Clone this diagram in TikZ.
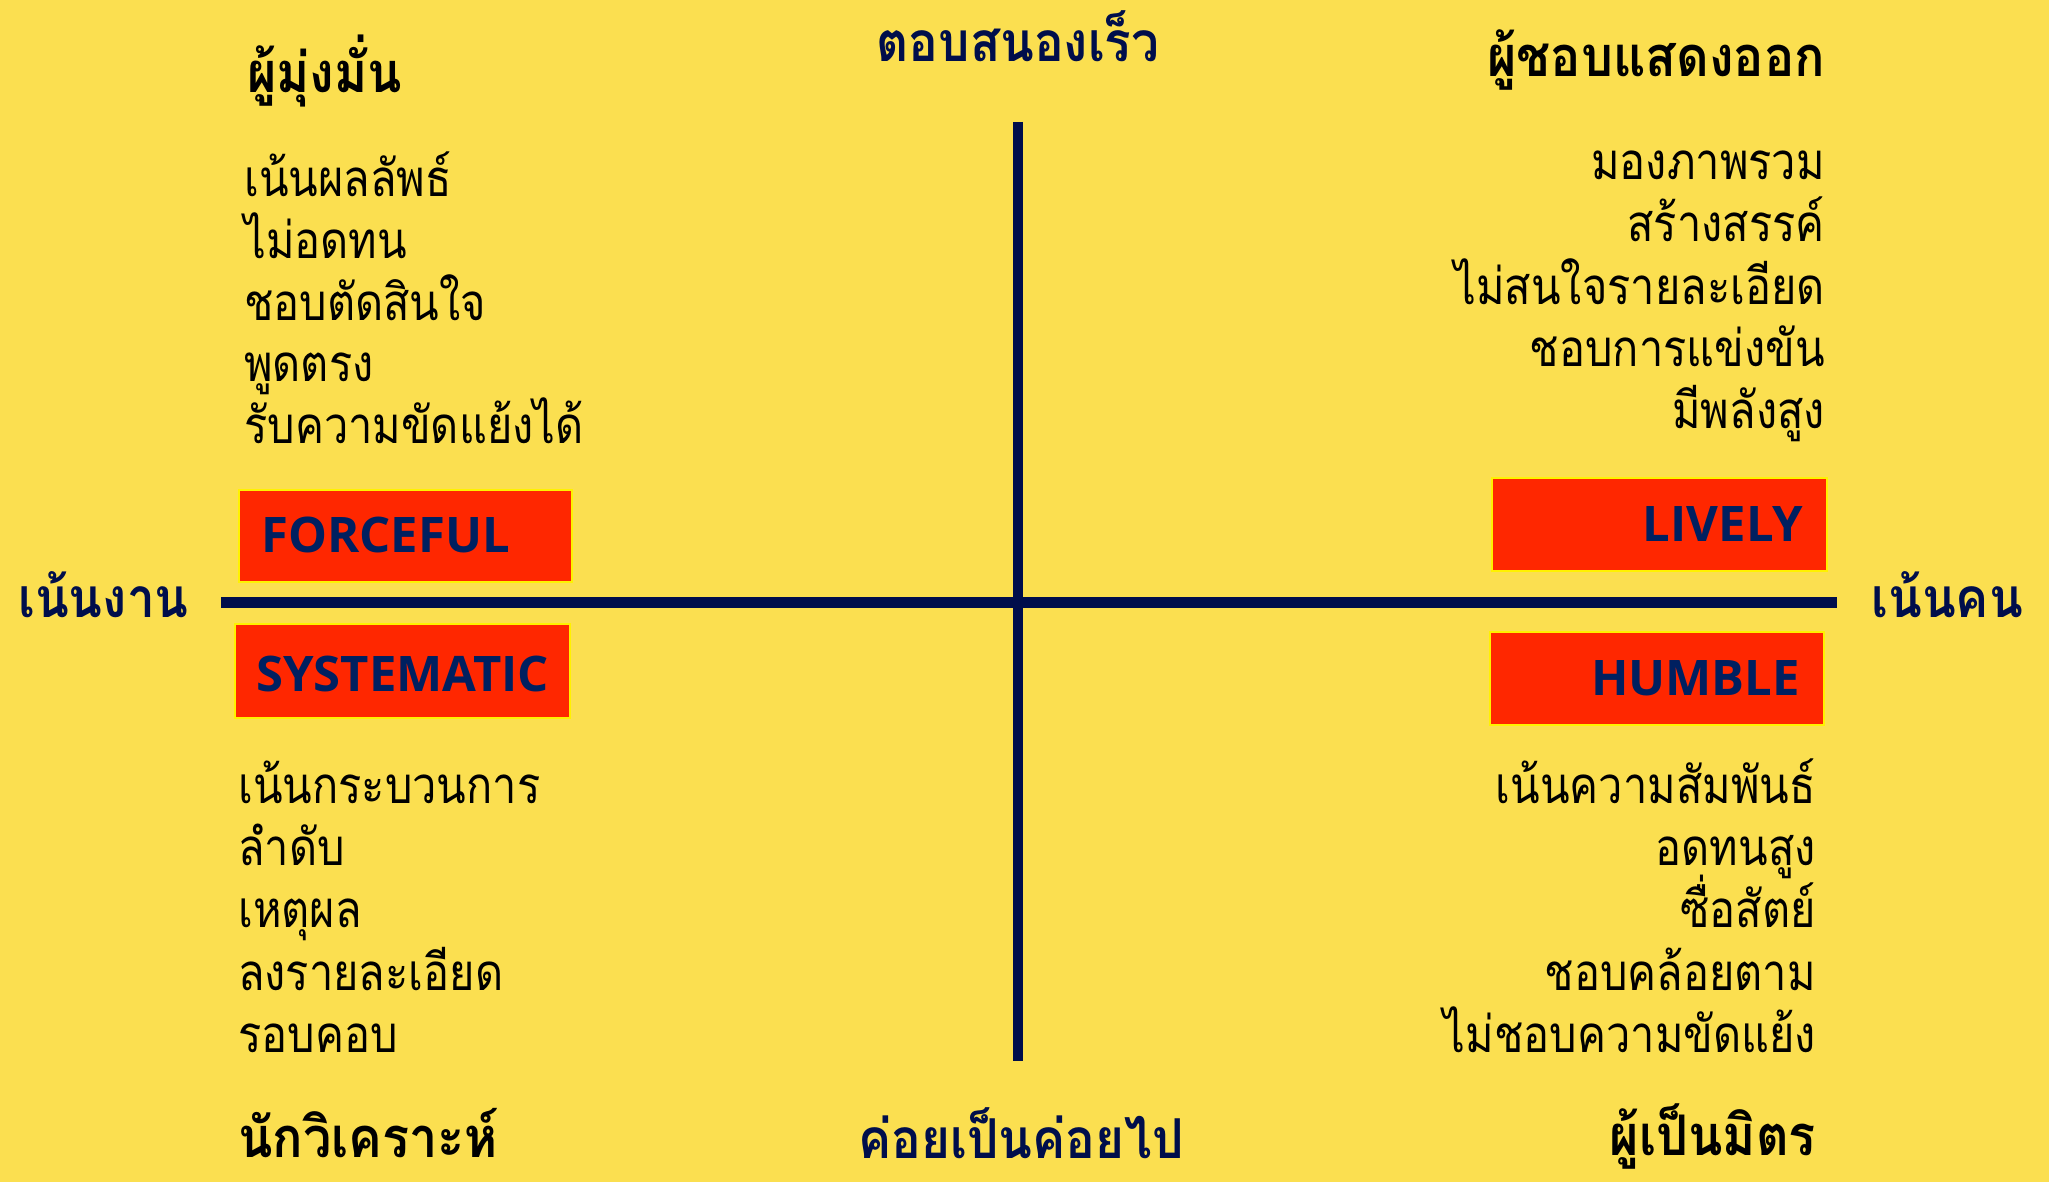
\documentclass[tikz,border=0pt]{standalone}
\usepackage{fontspec}
\newfontfamily\thai[Script=Thai,FakeStretch=0.85]{Loma}
\newfontfamily\thaibf[Script=Thai,FakeStretch=0.9]{Loma}
\newfontfamily\latf{Open Sans}
\definecolor{bg}{HTML}{FBDF50}
\definecolor{navy}{HTML}{000E4B}
\definecolor{boxred}{HTML}{FF2700}
\definecolor{boxtxt}{HTML}{002060}
\begin{document}
\begin{tikzpicture}[x=1pt,y=-1pt,
  item/.style={inner sep=0pt, font=\thai\fontsize{51}{60}\selectfont, text=black},
  head/.style={inner sep=0pt, font=\thaibf\bfseries\fontsize{56}{64}\selectfont, text=black},
  axislabel/.style={inner sep=0pt, font=\thaibf\bfseries\fontsize{55}{64}\selectfont, text=navy},
  tagbox/.style={draw=yellow, line width=2pt, fill=boxred, inner sep=0pt, anchor=north west},
  tagtxt/.style={inner sep=0pt, font=\latf\bfseries\fontsize{49}{60}\selectfont, text=boxtxt},
  axisline/.style={draw=navy, line width=11pt}]
\fill[bg] (0,0) rectangle (2049,1182);
\useasboundingbox (0,0) rectangle (2049,1182);

% axes
\coordinate (vtop) at (1018,122);
\coordinate (vbot) at (1018,1061);
\coordinate (hleft) at (221,602);
\coordinate (hright) at (1837,602);
\draw[axisline, line width=10pt] (vtop) -- (vbot);
\draw[axisline] (hleft) -- (hright);

% axis labels
\node[axislabel, anchor=base] (fast) at (1018,62) {ตอบสนองเร็ว};
\node[axislabel, anchor=base] (slow) at (1021,1158) {ค่อยเป็นค่อยไป};
\node[axislabel, anchor=base west] (task) at (18,617) {เน้นงาน};
\node[axislabel, anchor=base east] (people) at (2023,617) {เน้นคน};

% headings
\node[head, anchor=base west] (h1) at (247,93) {ผู้มุ่งมั่น};
\node[head, anchor=base east] (h2) at (1825,77) {ผู้ชอบแสดงออก};
\node[head, anchor=base west] (h3) at (238,1157) {นักวิเคราะห์};
\node[head, anchor=base east] (h4) at (1816,1155) {ผู้เป็นมิตร};

% lists
\foreach \t [count=\i from 0] in {เน้นผลลัพธ์,ไม่อดทน,ชอบตัดสินใจ,พูดตรง,รับความขัดแย้งได้}
  \node[item, anchor=base west] (tl\i) at (244,197+61.6*\i) {\t};
\foreach \t [count=\i from 0] in {มองภาพรวม,สร้างสรรค์,ไม่สนใจรายละเอียด,ชอบการแข่งขัน,มีพลังสูง}
  \node[item, anchor=base east] (tr\i) at (1825,180+62*\i) {\t};
\foreach \t [count=\i from 0] in {เน้นกระบวนการ,ลำดับ,เหตุผล,ลงรายละเอียด,รอบคอบ}
  \node[item, anchor=base west] (bl\i) at (238,803+62.4*\i) {\t};
\foreach \t [count=\i from 0] in {เน้นความสัมพันธ์,อดทนสูง,ซื่อสัตย์,ชอบคล้อยตาม,ไม่ชอบความขัดแย้ง}
  \node[item, anchor=base east] (br\i) at (1816,803+62.4*\i) {\t};

% tag boxes
\node[tagbox, minimum width=333pt, minimum height=92pt] (forceful) at (238,489) {};
\node[tagtxt, anchor=base west] (forcefult) at (261,552) {FORCEFUL};
\node[tagbox, minimum width=335pt, minimum height=94pt] (systematic) at (234,623) {};
\node[tagtxt, anchor=base west] (systematict) at (256,691) {SYSTEMATIC};
\node[tagbox, minimum width=335pt, minimum height=93pt] (lively) at (1491,477) {};
\node[tagtxt, anchor=base east] (livelyt) at (1803,541) {LIVELY};
\node[tagbox, minimum width=334pt, minimum height=93pt] (humble) at (1489,631) {};
\node[tagtxt, anchor=base east] (humblet) at (1800,695) {HUMBLE};
\end{tikzpicture}
\end{document}
